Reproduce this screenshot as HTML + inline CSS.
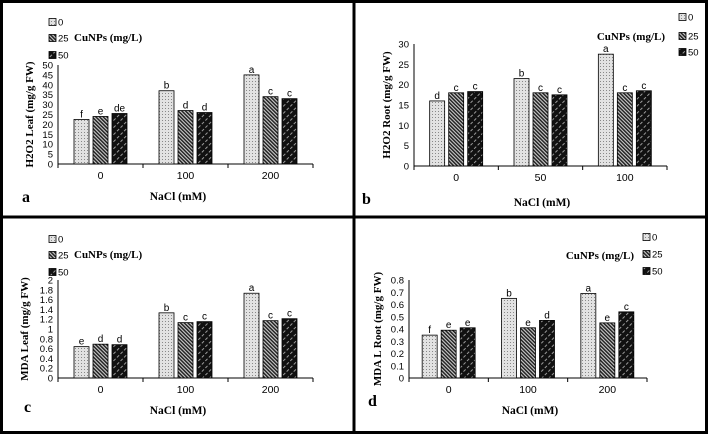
<!DOCTYPE html>
<html><head><meta charset="utf-8"><style>
body{margin:0;background:#fff}
svg{display:block}
text{font-family:"Liberation Sans",sans-serif}
.serif{font-family:"Liberation Serif",serif;font-weight:bold}
</style></head><body>
<svg id="fig" width="708" height="434" viewBox="0 0 708 434" xmlns="http://www.w3.org/2000/svg">
<defs>
<pattern id="p0" width="3" height="3" patternUnits="userSpaceOnUse"><rect width="3" height="3" fill="#e2e2e2"/><rect width="1" height="1" fill="#888"/></pattern>
<pattern id="p1" width="2.6" height="2.6" patternUnits="userSpaceOnUse" patternTransform="rotate(-45)"><rect width="2.6" height="2.6" fill="#ccc"/><rect width="1.5" height="2.6" fill="#222"/></pattern>
<pattern id="p2" width="5" height="5" patternUnits="userSpaceOnUse" patternTransform="rotate(-45)"><rect width="5" height="5" fill="#111"/><rect x="0" y="0" width="3" height="0.9" fill="#aaa"/></pattern>
</defs>
<rect x="1.5" y="1.5" width="705" height="431" fill="none" stroke="#000" stroke-width="3"/>
<line x1="354" y1="0" x2="354" y2="434" stroke="#000" stroke-width="3"/>
<line x1="0" y1="217" x2="708" y2="217" stroke="#000" stroke-width="3"/>
</svg>
<script>
const categoriesA=["0","100","200"];
const valuesA=[[22.5,37,45],[24,27,34],[25.5,26,33]];
const lettersA=[["f","b","a"],["e","d","c"],["de","d","c"]];
const ticksA=[0,5,10,15,20,25,30,35,40,45,50];
const categoriesB=["0","50","100"];
const valuesB=[[16,21.5,27.5],[18,18,18],[18.3,17.5,18.5]];
const lettersB=[["d","b","a"],["c","c","c"],["c","c","c"]];
const ticksB=[0,5,10,15,20,25,30];
const categoriesC=["0","100","200"];
const valuesC=[[0.64,1.33,1.73],[0.69,1.13,1.17],[0.68,1.15,1.21]];
const lettersC=[["e","b","a"],["d","c","c"],["d","c","c"]];
const ticksC=[0,0.2,0.4,0.6,0.8,1,1.2,1.4,1.6,1.8,2];
const categoriesD=["0","100","200"];
const valuesD=[[0.35,0.65,0.69],[0.39,0.41,0.45],[0.41,0.47,0.54]];
const lettersD=[["f","b","a"],["e","e","e"],["e","d","c"]];
const ticksD=[0,0.1,0.2,0.3,0.4,0.5,0.6,0.7,0.8];
const seriesNames=["0","25","50"];

const svg=document.getElementById('fig');
const NS="http://www.w3.org/2000/svg";
function mk(tag,attrs,txt){const e=document.createElementNS(NS,tag);for(const k in attrs)e.setAttribute(k,attrs[k]);if(txt!==undefined)e.textContent=txt;svg.appendChild(e);return e;}

function panel(p){
  const yScale=v=>p.y0-(v/p.ymax)*(p.y0-p.y1);
  const cw=(p.x1-p.x0)/p.cats.length;
  const xCenter=i=>p.x0+cw*(i+0.5);
  let e;
  e=mk('line',{x1:p.x0,y1:p.y1,x2:p.x0,y2:p.y0,stroke:'#000','stroke-width':1});
  
  
  e=mk('line',{x1:p.x0,y1:p.y0,x2:p.x1,y2:p.y0,stroke:'#000','stroke-width':1});
  
  
  p.ticks.forEach(t=>{
    e=mk('text',{x:p.x0-5,y:yScale(t)+3.5,'text-anchor':'end','font-size':9.5},String(t));
    
    
  });
  for(let i=0;i<=p.cats.length;i++){
    e=mk('line',{x1:p.x0+cw*i,y1:p.y0,x2:p.x0+cw*i,y2:p.y0+4,stroke:'#000'});
    
    
  }
  p.cats.forEach((c,i)=>{
    e=mk('text',{x:xCenter(i),y:p.y0+15,'text-anchor':'middle','font-size':10.5},c);
    
    
  });
  p.vals.forEach((ser,s)=>{
    ser.forEach((v,i)=>{
      const x=xCenter(i)+(s-1)*19-7.5,y=yScale(v);
      e=mk('rect',{x:x,y:y,width:15,height:p.y0-y,fill:'url(#p'+s+')',stroke:'#000','stroke-width':0.8});
      
      
      e=mk('text',{x:x+7.5,y:y-2,'text-anchor':'middle','font-size':10},p.letters[s][i]);
      
      
    });
  });
  e=mk('text',{x:p.tx,y:(p.y0+p.y1)/2,'text-anchor':'middle','font-size':11,class:'serif',transform:'rotate(-90 '+p.tx+' '+((p.y0+p.y1)/2)+')'},p.ytitle);
  
  
  e=mk('text',{x:p.nx,y:p.ny,'text-anchor':'middle','font-size':11.5,class:'serif'},'NaCl (mM)');
  
  
  e=mk('text',{x:p.lx,y:p.ly,'font-size':16,class:'serif'},p.label);
  
  
  p.legY.forEach((ly,s)=>{
    e=mk('rect',{x:p.legX,y:ly-3.5,width:7,height:7,fill:'url(#p'+s+')',stroke:'#000','stroke-width':0.8});
    
    
    e=mk('text',{x:p.legX+9,y:ly+3.5,'font-size':9.5},seriesNames[s]);
    
    
  });
  e=mk('text',{x:p.cx,y:p.cy,'text-anchor':p.canchor,'font-size':11,class:'serif'},'CuNPs (mg/L)');
  
  
}

panel({id:'a',cats:categoriesA,vals:valuesA,letters:lettersA,ticks:ticksA,ymax:50,x0:58,x1:313,y0:164,y1:65,tx:33,ytitle:'H2O2 Leaf (mg/g FW)',nx:178,ny:200,lx:22,ly:202,label:'a',legX:49,legY:[22,38,55],cx:74,cy:41,canchor:'start'});
panel({id:'b',cats:categoriesB,vals:valuesB,letters:lettersB,ticks:ticksB,ymax:30,x0:414,x1:667,y0:166,y1:44,tx:390,ytitle:'H2O2 Root (mg/g FW)',nx:542,ny:206,lx:362,ly:204,label:'b',legX:679,legY:[17,36,52],cx:665,cy:40,canchor:'end'});
panel({id:'c',cats:categoriesC,vals:valuesC,letters:lettersC,ticks:ticksC,ymax:2,x0:58,x1:313,y0:378,y1:280,tx:28,ytitle:'MDA Leaf (mg/g FW)',nx:178,ny:414,lx:24,ly:412,label:'c',legX:49,legY:[239,255,272],cx:74,cy:258,canchor:'start'});
panel({id:'d',cats:categoriesD,vals:valuesD,letters:lettersD,ticks:ticksD,ymax:0.8,x0:409,x1:647,y0:378,y1:280,tx:381,ytitle:'MDA L Root (mg/g FW)',nx:530,ny:414,lx:368,ly:406,label:'d',legX:643,legY:[237,254,271],cx:634,cy:259,canchor:'end'});
</script>
</body></html>
